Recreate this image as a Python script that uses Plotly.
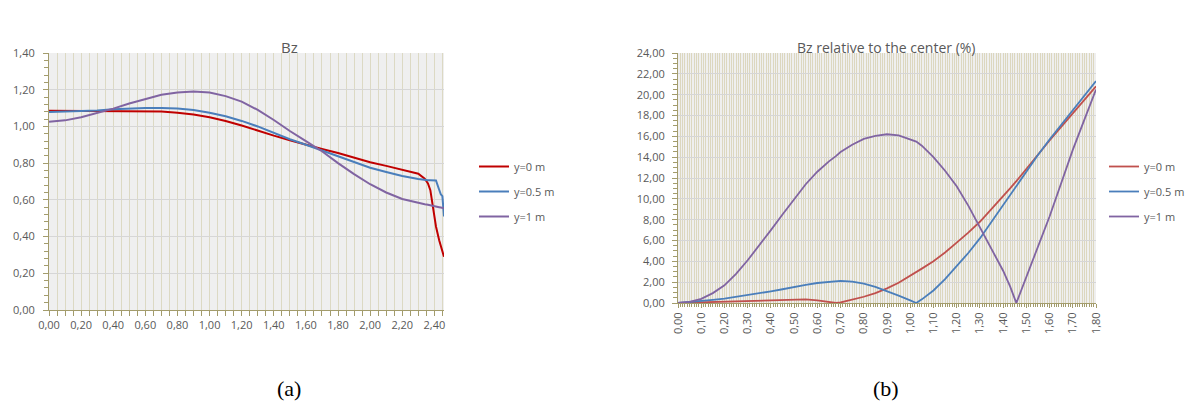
import plotly.graph_objects as go

# ---------------- data: chart (a) Bz ----------------
xa = [0, 0.1, 0.2, 0.3, 0.4, 0.5, 0.6, 0.7, 0.8, 0.9, 1.0, 1.1, 1.2, 1.3, 1.4, 1.5,
      1.6, 1.7, 1.8, 1.9, 2.0, 2.1, 2.2, 2.3, 2.34, 2.36, 2.375, 2.39, 2.41, 2.43,
      2.44, 2.45, 2.46]
bz_y0 = [1.085, 1.085, 1.085, 1.085, 1.085, 1.085, 1.084, 1.081, 1.075, 1.065, 1.05,
         1.03, 1.005, 0.976, 0.95, 0.925, 0.9, 0.877, 0.855, 0.83, 0.805, 0.785, 0.765,
         0.742, 0.715, 0.69, 0.653, 0.563, 0.455, 0.38, 0.35, 0.32, 0.29]
bz_y05 = [1.078, 1.08, 1.083, 1.087, 1.093, 1.098, 1.1, 1.1, 1.098, 1.09, 1.075,
          1.055, 1.03, 1.0, 0.965, 0.93, 0.9, 0.868, 0.84, 0.805, 0.775, 0.752, 0.73,
          0.714, 0.708, 0.707, 0.707, 0.706, 0.706, 0.655, 0.63, 0.62, 0.51]
bz_y1 = [1.026, 1.033, 1.05, 1.072, 1.097, 1.125, 1.15, 1.172, 1.185, 1.19, 1.185,
         1.165, 1.135, 1.09, 1.035, 0.975, 0.92, 0.865, 0.8, 0.74, 0.685, 0.64, 0.605,
         0.582, 0.576, 0.573, 0.571, 0.568, 0.566, 0.56, 0.558, 0.556, 0.554]

# ---------------- data: chart (b) Bz relative to the center (%) ----------------
xb = [0, 0.05, 0.1, 0.15, 0.2, 0.25, 0.3, 0.35, 0.4, 0.45, 0.5, 0.55, 0.6, 0.65,
      0.68, 0.7, 0.75, 0.8, 0.85, 0.9, 0.95, 1.0, 1.026, 1.05, 1.1, 1.15, 1.2, 1.25,
      1.3, 1.35, 1.4, 1.43, 1.457, 1.5, 1.55, 1.6, 1.65, 1.7, 1.75, 1.8]
rel_y0 = [0.0, 0.03, 0.06, 0.1, 0.14, 0.18, 0.22, 0.26, 0.3, 0.34, 0.36, 0.34, 0.26,
          0.1, 0.0, 0.05, 0.3, 0.6, 0.95, 1.4, 1.95, 2.6, 2.95, 3.3, 4.0, 4.85, 5.8,
          6.75, 7.8, 9.0, 10.2, 11.0, 11.7, 12.9, 14.2, 15.6, 16.9, 18.2, 19.5, 20.8]
rel_y05 = [0.0, 0.08, 0.18, 0.3, 0.42, 0.58, 0.75, 0.93, 1.12, 1.32, 1.55, 1.75, 1.92,
           2.05, 2.1, 2.12, 2.05, 1.85, 1.55, 1.15, 0.7, 0.25, 0.0, 0.35, 1.2, 2.3, 3.5,
           4.8, 6.2, 7.8, 9.4, 10.4, 11.3, 12.7, 14.2, 15.7, 17.1, 18.5, 19.9, 21.3]
rel_y1 = [0.0, 0.1, 0.4, 0.95, 1.7, 2.8, 4.1, 5.5, 7.0, 8.5, 10.0, 11.4, 12.6, 13.6,
          14.1, 14.5, 15.2, 15.75, 16.05, 16.2, 16.1, 15.75, 15.5, 15.1, 14.0, 12.7,
          11.2, 9.35, 7.3, 5.2, 3.1, 1.6, 0.0, 2.5, 5.4, 8.3, 11.5, 14.7, 17.6, 20.5]

series_names = ["y=0 m", "y=0.5 m", "y=1 m"]
colors_a = ["#c00000", "#4a7ebb", "#8064a2"]
colors_b = ["#c0504d", "#4a7ebb", "#8064a2"]

OFF = 8  # page body margin
W, H = 1196 - OFF, 407 - OFF
def px(v):
    return (v - OFF) / W
def py(v):
    return 1 - (v - OFF) / H

fig = go.Figure()
for i, ys in enumerate([bz_y0, bz_y05, bz_y1]):
    fig.add_trace(go.Scatter(x=xa, y=ys, mode="lines", name=series_names[i],
                             line=dict(color=colors_a[i], width=2),
                             xaxis="x", yaxis="y", legend="legend",
                             legendgroup="a%d" % i))
for i, ys in enumerate([rel_y0, rel_y05, rel_y1]):
    fig.add_trace(go.Scatter(x=xb, y=ys, mode="lines", name=series_names[i],
                             line=dict(color=colors_b[i], width=1.8),
                             xaxis="x2", yaxis="y2", legend="legend2",
                             legendgroup="b%d" % i))

AX = "#a39c6c"
TF = dict(family="Open Sans", size=11, color="#595959")
VG = "#dcd9c3"
VG2 = "#dcd7bf"
HG = "#d6d6d6"

fig.update_layout(
    width=W, height=H, margin=dict(l=0, r=0, t=0, b=0, autoexpand=False),
    paper_bgcolor="white", plot_bgcolor="#efefef",
    separators=",.",
    font=TF,
    xaxis=dict(domain=[px(49), px(444)], range=[0, 2.46], anchor="y",
               automargin=False,
               tick0=0, dtick=0.2, tickformat=".2f", tickfont=TF,
               ticks="outside", ticklen=5, tickcolor=AX,
               showline=True, linecolor=AX, linewidth=1,
               showgrid=True, gridcolor=VG, zeroline=False,
               minor=dict(tick0=0, dtick=0.05, showgrid=True, gridcolor=VG,
                          ticks="outside", ticklen=5, tickcolor=AX)),
    yaxis=dict(domain=[py(310), py(53)], range=[0, 1.4], anchor="x",
               automargin=False, ticklabelstandoff=6,
               tick0=0, dtick=0.2, tickformat=".2f", tickfont=TF,
               ticks="outside", ticklen=5, tickcolor=AX,
               showline=True, linecolor=AX, linewidth=1,
               showgrid=True, gridcolor=HG, zeroline=False,
               minor=dict(tick0=0, dtick=0.04, showgrid=False,
                          ticks="outside", ticklen=4, tickcolor=AX)),
    xaxis2=dict(domain=[px(678), px(1096)], range=[0, 1.8], anchor="y2",
                automargin=False,
                tick0=0, dtick=0.1, tickformat=".2f", tickangle=-90, tickfont=TF,
                ticks="outside", ticklen=4, tickcolor=AX,
                showline=True, linecolor=AX, linewidth=1,
                showgrid=True, gridcolor=VG2, zeroline=False,
                minor=dict(tick0=0, dtick=0.01, showgrid=True, gridcolor=VG2,
                           ticks="outside", ticklen=3, tickcolor=AX)),
    yaxis2=dict(domain=[py(303), py(53)], range=[0, 24], anchor="x2",
                automargin=False, ticklabelstandoff=5,
                tick0=0, dtick=2, tickformat=".2f", tickfont=TF,
                ticks="outside", ticklen=5, tickcolor=AX,
                showline=True, linecolor=AX, linewidth=1,
                showgrid=True, gridcolor=HG, zeroline=False,
                minor=dict(tick0=0, dtick=0.5, showgrid=False,
                           ticks="outside", ticklen=4, tickcolor=AX)),
    legend=dict(x=px(474), y=py(152), xanchor="left", yanchor="top",
                bgcolor="rgba(0,0,0,0)", font=TF, tracegroupgap=6,
                traceorder="grouped"),
    legend2=dict(x=px(1104), y=py(152), xanchor="left", yanchor="top",
                 bgcolor="rgba(0,0,0,0)", font=TF, tracegroupgap=6,
                 traceorder="grouped"),
    annotations=[
        dict(text="Bz", x=px(289), y=py(47), xref="paper", yref="paper",
             showarrow=False, xanchor="center", yanchor="middle",
             font=dict(family="Open Sans", size=15, color="#595959")),
        dict(text="Bz relative to the center (%)", x=px(886), y=py(47),
             xref="paper", yref="paper", showarrow=False,
             xanchor="center", yanchor="middle",
             font=dict(family="Open Sans", size=14, color="#595959")),
        dict(text="(a)", x=px(289), y=py(388), xref="paper", yref="paper",
             showarrow=False, xanchor="center", yanchor="middle",
             font=dict(family="Liberation Serif", size=22, color="black")),
        dict(text="(b)", x=px(886), y=py(388), xref="paper", yref="paper",
             showarrow=False, xanchor="center", yanchor="middle",
             font=dict(family="Liberation Serif", size=22, color="black")),
    ],
)

fig.write_html("out.html")
